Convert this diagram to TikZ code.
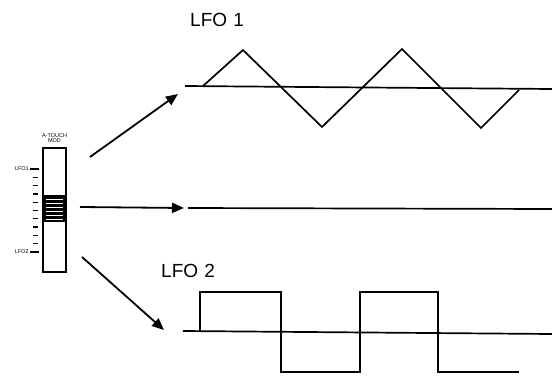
\documentclass[tikz,border=0pt]{standalone}
\usepackage{fontspec}
\setmainfont{Liberation Sans}
\usetikzlibrary{arrows.meta}

\begin{document}
\begin{tikzpicture}[x=1pt,y=-1pt,every node/.style={inner sep=0pt},wave/.style={line width=1.7pt,line join=miter},feed/.style={line width=1.8pt,-{Triangle[length=12pt,width=10pt]}},tiny/.style={font=\fontsize{5.5}{5.5}\selectfont,align=center},big/.style={font=\fontsize{19}{19}\selectfont,anchor=west}]
\useasboundingbox (0,0) rectangle (552,378);

% slider
\node[draw,line width=2.6pt,minimum width=23pt,minimum height=124pt] (slider) at (54.5,210) {};
\fill (43,195) rectangle (66,222);
\foreach \y in {199,203,...,219} \draw[white,line width=0.9pt] (46,\y) -- (63,\y);
\node[tiny] (title) at (54.5,138) {A-TOUCH\\MOD};
\foreach \y in {177.3,185.6,...,245} \draw[line width=1.3pt] (33,\y) -- (38,\y);
\draw[line width=1.3pt] (30,169) -- (39,169);
\draw[line width=1.3pt] (30,252) -- (39,252);
\node[tiny,anchor=east] (lfoa) at (29,169) {LFO1};
\node[tiny,anchor=east] (lfob) at (29,252) {LFO2};

% outputs
\coordinate (tail1) at (90,157);
\coordinate (tail2) at (80,207);
\coordinate (tail3) at (82,257);
\coordinate (head1) at (178,94);
\coordinate (head2) at (184,208);
\coordinate (head3) at (164,330);
\draw[feed] (tail1) -- (head1);
\draw[feed] (tail2) -- (head2);
\draw[feed] (tail3) -- (head3);

\node[big] (title1) at (190,20) {LFO\,\,1};
\node[big] (title2) at (161,271) {LFO\,\,2};

% LFO 1
\draw[wave] (185,86) -- (552,89);
\draw[wave] (203,86) -- (243,50) -- (322,127) -- (402,49) -- (481,128) -- (519,90);

% flat
\draw[wave] (188,208) -- (552,209);

% LFO 2
\draw[wave] (183,331) -- (552,334);
\draw[wave] (200,331) |- (281,292) |- (360,372) |- (438,292) |- (519,372);

\end{tikzpicture}
\end{document}
